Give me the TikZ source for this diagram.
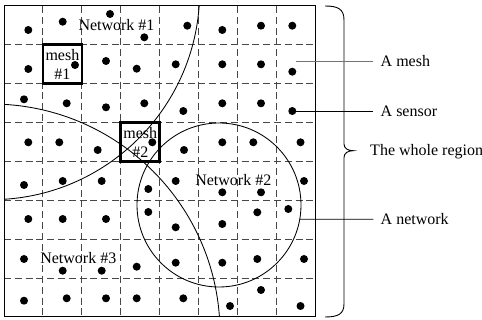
\documentclass[tikz,border=0pt]{standalone}
\usepackage{fontspec}
\setmainfont{Liberation Serif}
\begin{document}
\begin{tikzpicture}[x=1pt,y=-1pt,
  dot/.style={circle,fill=black,inner sep=0pt,minimum size=8pt},
  gridline/.style={draw=black!72,line width=1pt,dash pattern=on 7pt off 3.8pt},
  border/.style={draw=black,line width=1pt},
  meshbox/.style={draw=black,line width=2.7pt,minimum size=39pt,inner sep=0pt,align=center,font=\fontsize{16}{19}\selectfont},
  netline/.style={draw=black,line width=0.85pt},
  lbl/.style={font=\fontsize{16}{19}\selectfont},
  leader/.style={draw=black,line width=0.8pt},
  rlbl/.style={lbl,anchor=west,inner xsep=7.2pt,inner ysep=0pt},
]
\useasboundingbox (0,0) rectangle (482,320);
% dashed mesh lines
\foreach \i in {1,...,7} {
  \draw[gridline] ({4+38.95*\i},6) -- ({4+38.95*\i},317);
  \draw[gridline] (4,{6+38.875*\i}) -- (315.6,{6+38.875*\i});
}
% networks #1 and #3 (clipped to the region)
\begin{scope}
  \clip (4,6) rectangle (315.6,317);
  \draw[netline] (-9,-9) circle[radius=208.7];
  \draw[netline] (-9,333) circle[radius=229];
\end{scope}
% network #2
\node[circle,netline,minimum size=164pt,inner sep=0pt] (net2) at (219,205) {};
% region border
\draw[border] (4,6) rectangle (315.6,317);
% sensors
\foreach \x/\y [count=\n] in {
  28.3/30, 62.7/21.7, 110/14, 144.3/37.3, 187.3/25.7, 222.3/30, 261/25.7, 292.3/25.7,
  28.3/69, 75/65, 106/61, 136.7/68.7, 175.7/64.3, 222.3/64.3, 261/64.3, 292.3/71.7,
  24/99.3, 66.7/103.3, 106/107.3, 144.3/103.3, 183.3/111, 222.3/103.3, 261/103.3, 292.3/111,
  28.3/142.3, 59.3/142.3, 97.7/150, 152.3/142.3, 184/150, 222.3/142.3, 253.3/142.3, 300.5/142.3,
  24/185, 62.7/181, 101.7/181, 148.3/189, 175.7/181, 222.3/192.3, 261/192.3, 304/181,
  28.3/219, 62.7/219, 106/219, 148.3/212, 175.7/227.3, 222.3/224, 257.3/212.3, 288.3/209,
  24/259, 62.7/270.7, 101.7/270.7, 136.7/266.7, 175.7/262.7, 222.3/262.7, 257.3/259, 304/259,
  24/300.7, 66.7/298.3, 106/298.3, 136.7/298.3, 183.3/298.3, 230/306, 261/290, 300.5/306}
  \node[dot] (s\n) at (\x,\y) {};
% meshes
\node[meshbox] (mesh1) at (62.4,64.3) {mesh\\\#1};
\node[meshbox] (mesh2) at (140.3,142.1) {mesh\\\#2};
% network labels
\node[lbl,anchor=base] (n1) at (116.5,30.7) {Network \#1};
\node[lbl,anchor=base] (n2) at (233.3,186) {Network \#2};
\node[lbl,anchor=base] (n3) at (78.3,264) {Network \#3};
% brace
\draw[line width=0.9pt] (325,6) .. controls (338,6) and (344,9) .. (344,20) -- (344,144)
  .. controls (344,148.5) and (348,150.7) .. (353.3,150.7)
  .. controls (348,150.7) and (344,153) .. (344,157.5) -- (344,304)
  .. controls (344,314) and (338,317) .. (325,317);
\node[lbl,anchor=base west] (lwhole) at (366.7,156) {The whole region};
% leaders
\coordinate (meshpt) at (296,61);
\node[rlbl] (lmesh) at (373.3,61) {A mesh};
\draw[leader,draw=black!55] (meshpt) -- (lmesh.west);
\node[rlbl] (lsensor) at (373.3,111) {A sensor};
\draw[leader] (s24.center) -- (lsensor.west);
\node[rlbl] (lnet) at (373.3,219.3) {A network};
\draw[leader] (net2.-10) -- (lnet.west);
\end{tikzpicture}
\end{document}
